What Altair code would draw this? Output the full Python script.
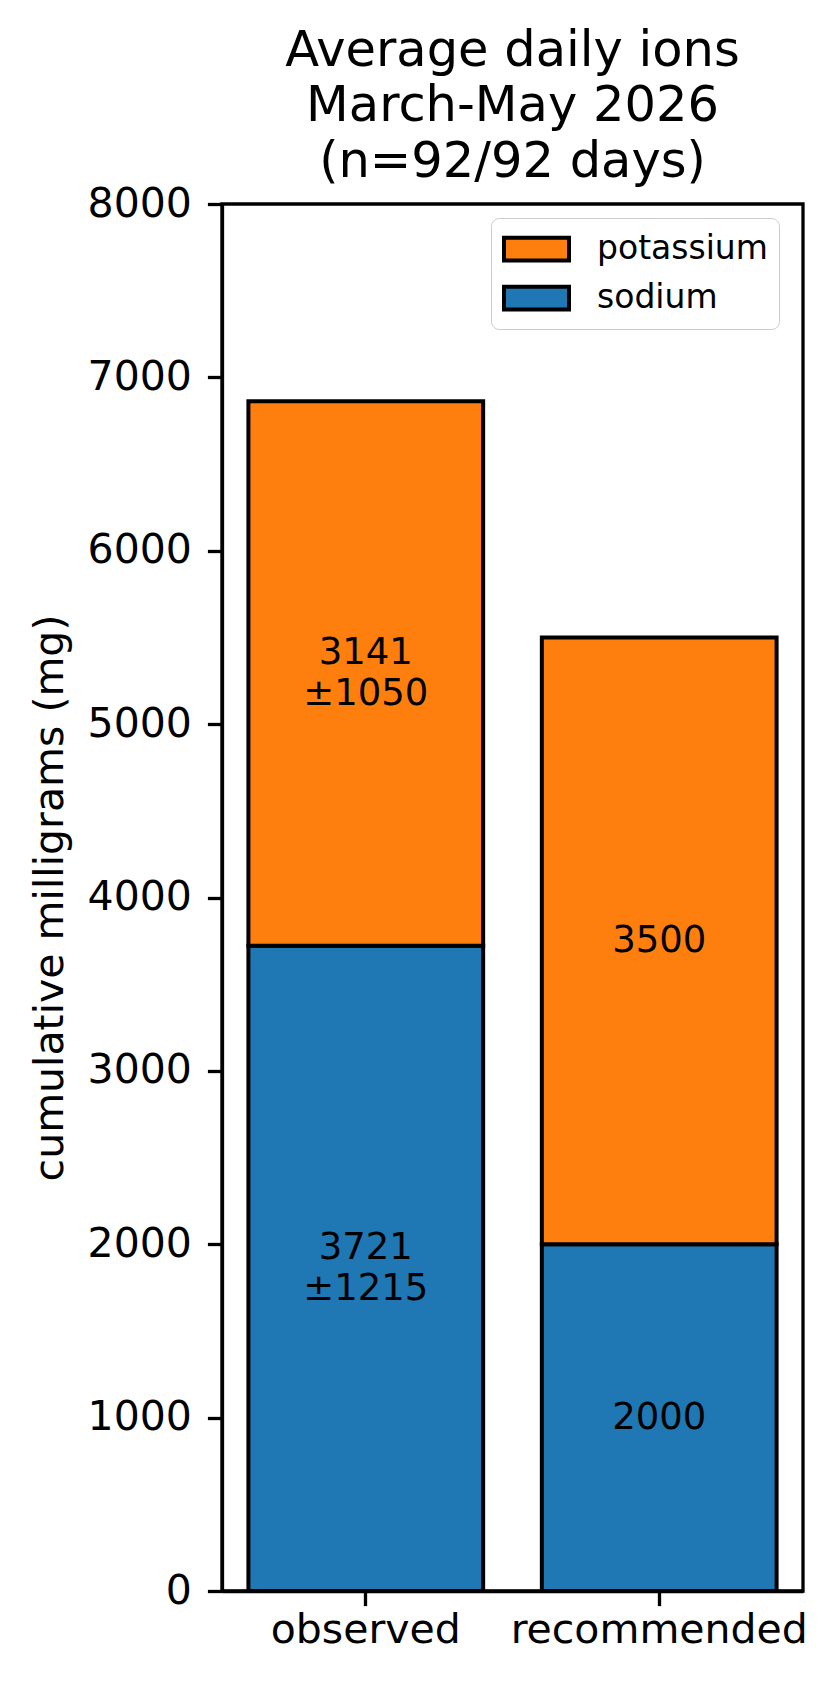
import altair as alt
import pandas as pd

categories = ["observed", "recommended"]
sodium = [3721, 2000]
sodium_sd = [1215, None]
potassium = [3141, 3500]
potassium_sd = [1050, None]
ions = ["sodium", "potassium"]
title_lines = ["Average daily ions", "March-May 2026", "(n=92/92 days)"]
y_ticks = [0, 1000, 2000, 3000, 4000, 5000, 6000, 7000, 8000]

rows = []
for i, c in enumerate(categories):
    rows.append({"category": c, "ion": "sodium", "ord": 0, "value": sodium[i], "sd": sodium_sd[i]})
    rows.append({"category": c, "ion": "potassium", "ord": 1, "value": potassium[i], "sd": potassium_sd[i]})
df = pd.DataFrame(rows)
df["two"] = df["sd"].notna()
df["label"] = [
    (f"{int(v)}\n±{int(s)}" if pd.notna(s) else f"{int(v)}") for v, s in zip(df["value"], df["sd"])
]
df = df.drop(columns=["sd"])

FONT = "DejaVu Sans"
BLUE = "#1f77b4"
ORANGE = "#ff7f0e"
FS = 41

x_enc = alt.X(
    "category:N",
    sort=categories,
    scale=alt.Scale(paddingInner=0.2, paddingOuter=0.09),
    axis=alt.Axis(
        title=None, labelAngle=0, labelFontSize=FS, labelColor="black",
        tickSize=14.6, tickWidth=3.3, tickColor="black", labelPadding=5,
        domainColor="black", domainWidth=3.3, labelFont=FONT, labelLimit=0,
    ),
)

y_scale = alt.Scale(domain=[0, 8000], nice=False)
y_axis = alt.Axis(
    title="cumulative milligrams (mg)", titleFontSize=FS, titleFontWeight="normal",
    titleColor="black", titlePadding=16, titleFont=FONT, format="d",
    values=y_ticks, labelFontSize=FS, labelColor="black", labelFont=FONT,
    tickSize=14.6, tickWidth=3.3, tickColor="black", labelPadding=16,
    domainColor="black", domainWidth=3.3, grid=False,
)

bars = alt.Chart(df).mark_bar(stroke="black", strokeWidth=4).encode(
    x=x_enc,
    y=alt.Y("value:Q", stack="zero", scale=y_scale, axis=y_axis),
    color=alt.Color(
        "ion:N",
        scale=alt.Scale(domain=["potassium", "sodium"], range=[ORANGE, BLUE]),
        legend=alt.Legend(
            title=None, orient="none", legendX=269, legendY=14,
            symbolType="M-1,-0.35L1,-0.35L1,0.35L-1,0.35Z", symbolSize=4225,
            symbolStrokeColor="black", symbolStrokeWidth=4,
            labelFontSize=33, labelFont=FONT, labelColor="black", labelLimit=0,
            labelOffset=26, padding=11, rowPadding=9, clipHeight=40,
            fillColor="white", strokeColor="#cccccc", cornerRadius=8,
        ),
    ),
    order=alt.Order("ord:Q", sort="ascending"),
)

text_base = alt.Chart(df).transform_stack(
    stack="value", groupby=["category"], as_=["y0", "y1"], sort=[alt.SortField("ord", order="ascending")]
).transform_calculate(
    mid="(datum.y0 + datum.y1) / 2"
).encode(
    x=alt.X("category:N", sort=categories),
    y=alt.Y("mid:Q", scale=y_scale),
    text="label:N",
)

text_two = text_base.transform_filter("datum.two").mark_text(
    lineBreak="\n", fontSize=37, font=FONT, color="black", baseline="middle", lineHeight=41, dy=-20.5
)
text_one = text_base.transform_filter("!datum.two").mark_text(
    fontSize=37, font=FONT, color="black", baseline="middle"
)

chart = alt.layer(bars, text_two, text_one).properties(
    width=581, height=1387,
    title=alt.TitleParams(
        text=title_lines, fontSize=49.5, font=FONT, fontWeight="normal",
        color="black", anchor="middle", lineHeight=55.5, offset=-4,
    ),
    autosize=alt.AutoSizeParams(type="none"),
    padding={"left": 214, "top": 196, "right": 28, "bottom": 90},
).configure(
    font=FONT, background="white"
).configure_view(
    stroke="black", strokeWidth=3.3
)

chart.save("out.html", embed_options={"renderer": "svg", "actions": False})
